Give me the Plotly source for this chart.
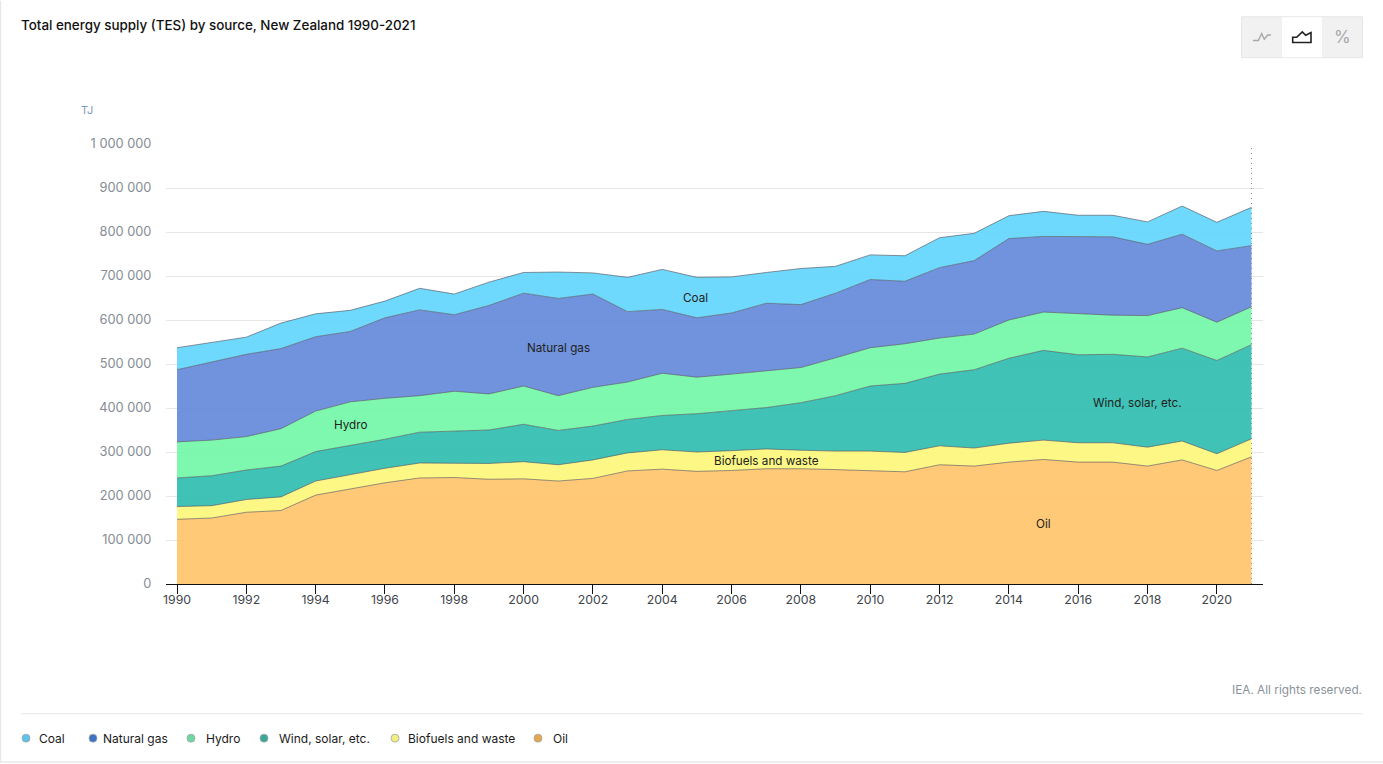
import plotly.graph_objects as go

years = list(range(1990, 2022))
oil = [147,150,163,167,202,216,230,241,242,238,239,234,240,257,261,256,258,262,262,260,258,255,271,268,277,283,277,277,268,282,258,289]
biofuels = [29,28,29,31,32,33,33,34,32,36,39,37,42,41,44,44,45,45,42,42,44,44,43,41,43,44,44,44,43,43,38,41]
wind_solar = [65,68,67,70,67,66,66,70,73,76,85,78,77,76,78,87,91,94,108,126,148,157,163,178,193,204,200,201,205,211,212,214]
hydro = [82,81,76,85,92,99,93,83,91,82,87,79,88,85,96,83,83,84,80,86,87,90,82,81,87,87,93,89,94,92,87,86]
natural_gas = [164,178,187,182,169,160,183,195,174,201,211,221,212,160,145,135,139,153,143,147,155,142,160,167,185,172,176,178,162,167,162,139]
coal = [50,44,39,58,52,48,38,49,47,53,47,60,48,78,91,92,82,70,82,61,56,58,68,62,52,57,48,49,51,64,65,87]
UNIT = 1000

series = [
    ("Oil", oil, "rgba(255,195,105,0.9)", "#e2a850"),
    ("Biofuels and waste", biofuels, "rgba(253,246,120,0.9)", "#f2ee80"),
    ("Wind, solar, etc.", wind_solar, "rgba(43,187,174,0.9)", "#3aa898"),
    ("Hydro", hydro, "rgba(112,247,165,0.9)", "#6fd8a0"),
    ("Natural gas", natural_gas, "rgba(98,135,217,0.9)", "#3b72c2"),
    ("Coal", coal, "rgba(95,213,253,0.9)", "#5cc3ea"),
]

W, H = 1383, 764
L, R, T, B = 166, 1263, 143.5, 584.5
FONT = "Inter"
def px(x): return (x - L) / (R - L)
def py(y): return (B - y) / (B - T)

fig = go.Figure()
for name, vals, fill, _ in series:
    fig.add_trace(go.Scatter(
        x=years, y=[v * UNIT for v in vals], name=name, mode="lines",
        stackgroup="one", fillcolor=fill,
        line=dict(color="rgba(80,80,90,0.62)", width=1),
        showlegend=False,
    ))

shapes = []
def rect(x0, y0, x1, y1, fill, line="rgba(0,0,0,0)", w=0):
    shapes.append(dict(type="rect", xref="paper", yref="paper", x0=px(x0), x1=px(x1), y0=py(y0), y1=py(y1),
                       fillcolor=fill, line=dict(color=line, width=w), layer="above"))
def hline(x0, x1, y, color, w=1):
    shapes.append(dict(type="line", xref="paper", yref="paper", x0=px(x0), x1=px(x1), y0=py(y), y1=py(y),
                       line=dict(color=color, width=w), layer="above"))
def poly(points, color, w, closed=False):
    d = "M " + " L ".join(f"{px(a):.5f},{py(b):.5f}" for a, b in points) + (" Z" if closed else "")
    shapes.append(dict(type="path", xref="paper", yref="paper", path=d, line=dict(color=color, width=w), layer="above"))

# card edges, legend divider
shapes.append(dict(type="line", xref="paper", yref="paper", x0=px(0.5), x1=px(0.5), y0=py(0), y1=py(764),
                   line=dict(color="#e8e8e8", width=1.5), layer="above"))
hline(0, 1383, 763, "#e8e8e8", 1.5)
hline(21, 1362, 714.5, "#e6e6e6", 1)

# view switcher
rect(1241.5, 16, 1362.5, 57, "#f1f1f1", "#e6e6e6", 1)
rect(1282, 16.5, 1322, 56.5, "#ffffff")
poly([(1253,39.8),(1258.3,39.8),(1261.7,32.8),(1264.3,38.5),(1267.7,34.2),(1271,34.2)], "#a8a8a8", 1.4)
poly([(1292.7,41.8),(1292.7,36.5),(1296.7,36.5),(1302.3,31.2),(1305.7,34.5),(1311,31.8),(1311,41.8)], "#222222", 1.6, True)

# latest-year marker
shapes.append(dict(type="line", xref="x", yref="paper", x0=years[-1], x1=years[-1], y0=0, y1=1,
                   line=dict(color="#8a8a8a", width=1, dash="1px,4px"), layer="above"))

ann = []
def text(x, y, s, size=12.5, color="#222222", anchor="left", xref="paper", yref="paper", weight=400):
    ann.append(dict(x=x, y=y, text=s, xref=xref, yref=yref, showarrow=False, xanchor=anchor, yanchor="middle",
                    borderpad=0, borderwidth=0,
                    font=dict(family=FONT, size=size, color=color, weight=weight)))

text(px(21), py(24.5), "Total energy supply (TES) by source, New Zealand 1990-2021", 13.4, "#111111", weight=500)
text(px(81), py(109), "TJ", 11, "#7d9cc0")
text(px(1362), py(690.5), "IEA. All rights reserved.", 11.8, "#8b939b", "right")
text(px(1342), py(36.5), "%", 17, "#a8a8a8", "center")

# in-chart series labels
labels = [("Coal", 2004.95, 650000), ("Natural gas", 2001, 536000), ("Hydro", 1995, 362000),
          ("Wind, solar, etc.", 2017.7, 412000), ("Biofuels and waste", 2007, 280000), ("Oil", 2015, 137000)]
for s, a, b in labels:
    text(a, b, s, 11.7, "#222222", "center", "x", "y")

# legend
legend = [("Coal", 26, 38.5), ("Natural gas", 93, 103), ("Hydro", 191, 205.5), ("Wind, solar, etc.", 264, 279),
          ("Biofuels and waste", 395, 408), ("Oil", 538, 552.5)]
colors = {n: c for n, _, _, c in series}
for name, cx, tx in legend:
    shapes.append(dict(type="circle", xref="paper", yref="paper", x0=px(cx-4), x1=px(cx+4), y0=py(739+4), y1=py(739-4),
                       fillcolor=colors[name], line=dict(color="#a5a5a5", width=0.8), layer="above"))
    text(px(tx), py(739.2), name, 12, "#1a1a1a")

fig.update_layout(
    width=W, height=H, margin=dict(l=L, r=W-R, t=T, b=H-B, pad=0, autoexpand=False),
    paper_bgcolor="white", plot_bgcolor="white", showlegend=False,
    separators=". ", font=dict(family=FONT, size=13),
    shapes=shapes, annotations=ann,
    xaxis=dict(range=[1990-(177-L)/34.66, 2021+(R-1251.5)/34.66], tick0=1990, dtick=2, showgrid=False, zeroline=False,
               ticks="outside", ticklen=9, tickwidth=1.3, tickcolor="#111111", ticklabelstandoff=-5,
               showline=True, linecolor="#111111", linewidth=1.3,
               tickfont=dict(family=FONT, size=12.3, color="#40454b")),
    yaxis=dict(range=[0, 1000000], dtick=100000, tickformat=",d", showgrid=True, gridcolor="#e6e6e6", gridwidth=1,
               zeroline=False, showline=False, ticks="outside", ticklen=11, tickcolor="rgba(0,0,0,0)",
               tickfont=dict(family=FONT, size=12.8, color="#858c93")),
)
fig.write_html("out.html", config={"displayModeBar": False},
               post_script="document.body.style.margin='0';document.body.style.overflow='hidden';")
